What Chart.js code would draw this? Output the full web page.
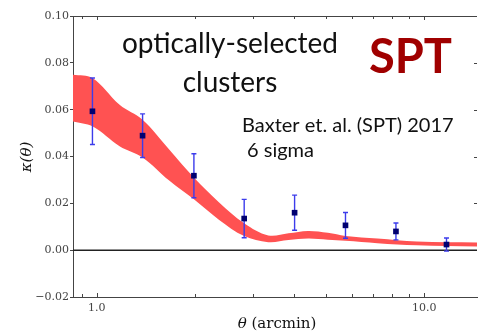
<!DOCTYPE html>
<html>
<head>
<meta charset="utf-8">
<script src="https://cdn.jsdelivr.net/npm/chart.js@4.4.1/dist/chart.umd.min.js"></script>
<style>
  html, body { margin: 0; padding: 0; background: #fff; }
  #wrap { width: 481px; height: 333px; }
</style>
</head>
<body>
<div id="wrap"><canvas id="graph" width="481" height="333"></canvas></div>
<script>
// model band (theta in arcmin)
const bandTheta = [0.846, 0.97, 1.174, 1.38, 1.664, 1.98, 2.36, 2.82, 3.34, 3.85, 4.42, 5.08, 5.75, 7.2, 9.5, 14.5];
const bandUpper = [0.0749, 0.0735, 0.0621, 0.0557, 0.0430, 0.0310, 0.0205, 0.0115, 0.0063, 0.0072, 0.0082, 0.0074, 0.0061, 0.0050, 0.0037, 0.0033];
const bandLower = [0.0550, 0.0529, 0.0444, 0.0396, 0.0297, 0.0217, 0.0130, 0.0060, 0.0034, 0.0043, 0.0050, 0.0045, 0.0040, 0.0030, 0.0021, 0.0016];

// measured points
const pointTheta = [0.97, 1.38, 1.98, 2.82, 4.02, 5.75, 8.2, 11.7];
const pointKappa = [0.0593, 0.0489, 0.0318, 0.0135, 0.0160, 0.0106, 0.0080, 0.0024];
const pointErr = [0.0142, 0.0093, 0.0094, 0.0082, 0.0075, 0.0055, 0.0036, 0.0028];

const xMin = 0.846, xMax = 14.5;
const xLabelTicks = [1, 10];
const xMinorTicks = [0.9, 2, 3, 4, 5, 6, 7, 8, 9];
const yTicks = [-0.02, 0, 0.02, 0.04, 0.06, 0.08, 0.10];

const axisColor = '#444';

const decor = {
  id: 'decor',
  beforeDatasetsDraw(chart) {
    const { ctx, chartArea: a, scales: { x, y } } = chart;
    ctx.save();
    ctx.strokeStyle = axisColor;
    ctx.lineWidth = 1;
    // top frame
    ctx.beginPath();
    ctx.moveTo(a.left, a.top + 0.5);
    ctx.lineTo(a.right, a.top + 0.5);
    ctx.stroke();
    // inward ticks on bottom and top
    ctx.beginPath();
    xLabelTicks.concat(xMinorTicks).forEach(v => {
      const px = Math.round(x.getPixelForValue(v)) + 0.5;
      const len = xLabelTicks.includes(v) ? 4 : 3;
      ctx.moveTo(px, a.bottom); ctx.lineTo(px, a.bottom - len);
      ctx.moveTo(px, a.top); ctx.lineTo(px, a.top + len);
    });
    // inward ticks on the right
    yTicks.forEach(v => {
      const py = Math.round(y.getPixelForValue(v)) + 0.5;
      ctx.moveTo(a.right, py); ctx.lineTo(a.right - 3, py);
    });
    ctx.stroke();
    ctx.restore();
  },
  beforeDatasetDraw(chart, args) {
    if (args.index !== 3) return;
    const { ctx, scales: { x, y } } = chart;
    ctx.save();
    ctx.strokeStyle = 'rgb(60,60,235)';
    ctx.lineWidth = 1.4;
    ctx.beginPath();
    pointTheta.forEach((t, i) => {
      const px = x.getPixelForValue(t);
      const top = y.getPixelForValue(pointKappa[i] + pointErr[i]);
      const bot = y.getPixelForValue(pointKappa[i] - pointErr[i]);
      ctx.moveTo(px, top); ctx.lineTo(px, bot);
      ctx.moveTo(px - 2.5, top); ctx.lineTo(px + 2.5, top);
      ctx.moveTo(px - 2.5, bot); ctx.lineTo(px + 2.5, bot);
    });
    ctx.stroke();
    ctx.restore();
  },
  afterDraw(chart) {
    const { ctx } = chart;
    ctx.save();
    ctx.fillStyle = '#111';
    ctx.textBaseline = 'alphabetic';
    ctx.textAlign = 'center';
    ctx.font = '28px Lato';
    ctx.fillText('optically-selected', 230, 53);
    ctx.fillText('clusters', 230, 92);

    ctx.textAlign = 'left';
    ctx.font = '20px Lato';
    ctx.fillText('Baxter et. al. (SPT) 2017', 242, 132);
    ctx.fillText('6 sigma', 247, 157);

    ctx.fillStyle = '#a00000';
    ctx.font = 'bold 47px Lato';
    ctx.fillText('SPT', 369, 73);

    // x axis title
    ctx.fillStyle = '#111';
    ctx.font = 'italic 15px "DejaVu Serif"';
    const th = 'θ';
    const rest = ' (arcmin)';
    const w1 = ctx.measureText(th).width;
    ctx.font = '15px "DejaVu Serif"';
    const w2 = ctx.measureText(rest).width;
    const sx = 277 - (w1 + w2) / 2;
    ctx.font = 'italic 15px "DejaVu Serif"';
    ctx.fillText(th, sx, 328);
    ctx.font = '15px "DejaVu Serif"';
    ctx.fillText(rest, sx + w1, 328);

    // y axis title
    ctx.translate(31, 157);
    ctx.rotate(-Math.PI / 2);
    ctx.textAlign = 'center';
    ctx.font = 'italic 15px "DejaVu Serif"';
    ctx.fillText('κ(θ)', 0, 0);
    ctx.restore();
  }
};

const ctx = document.getElementById('graph').getContext('2d');

new Chart(ctx, {
  type: 'line',
  data: {
    datasets: [
      {
        label: 'upper',
        data: bandTheta.map((t, i) => ({ x: t, y: bandUpper[i] })),
        borderWidth: 0,
        pointRadius: 0,
        backgroundColor: '#ff5252',
        fill: '+1',
        tension: 0.35,
        order: 3
      },
      {
        label: 'lower',
        data: bandTheta.map((t, i) => ({ x: t, y: bandLower[i] })),
        borderWidth: 0,
        pointRadius: 0,
        fill: false,
        tension: 0.35,
        order: 2
      },
      {
        label: 'zero',
        data: [{ x: xMin, y: 0 }, { x: xMax, y: 0 }],
        borderColor: '#222',
        borderWidth: 1.5,
        pointRadius: 0,
        fill: false,
        order: 1
      },
      {
        label: 'data',
        type: 'scatter',
        data: pointTheta.map((t, i) => ({ x: t, y: pointKappa[i] })),
        pointStyle: 'rect',
        pointRadius: 4,
        backgroundColor: '#000070',
        borderColor: '#000070',
        borderWidth: 0,
        order: 0
      }
    ]
  },
  options: {
    responsive: false,
    animation: false,
    devicePixelRatio: 1,
    layout: { padding: { top: 16, right: 0, left: 0, bottom: 0 } },
    plugins: {
      legend: { display: false },
      tooltip: { enabled: false }
    },
    scales: {
      x: {
        type: 'logarithmic',
        min: xMin,
        max: xMax,
        afterBuildTicks: s => { s.ticks = xLabelTicks.map(v => ({ value: v })); },
        afterFit: s => { s.height = 36; },
        ticks: {
          callback: v => Number(v).toFixed(1),
          font: { family: 'DejaVu Serif', size: 11 },
          color: axisColor,
          maxRotation: 0,
          autoSkip: false,
          padding: 5
        },
        grid: { display: false, drawTicks: false },
        border: { color: axisColor, width: 1 }
      },
      y: {
        min: -0.02,
        max: 0.10,
        afterBuildTicks: s => { s.ticks = yTicks.map(v => ({ value: v })); },
        afterFit: s => { s.width = 73; },
        ticks: {
          callback: v => (v < 0 ? '\u2212' : '') + Math.abs(v).toFixed(2),
          font: { family: 'DejaVu Serif', size: 11 },
          color: axisColor,
          padding: 1
        },
        grid: { drawOnChartArea: false, tickLength: 3, color: axisColor },
        border: { color: axisColor, width: 1 }
      }
    }
  },
  plugins: [decor]
});
</script>
</body>
</html>
